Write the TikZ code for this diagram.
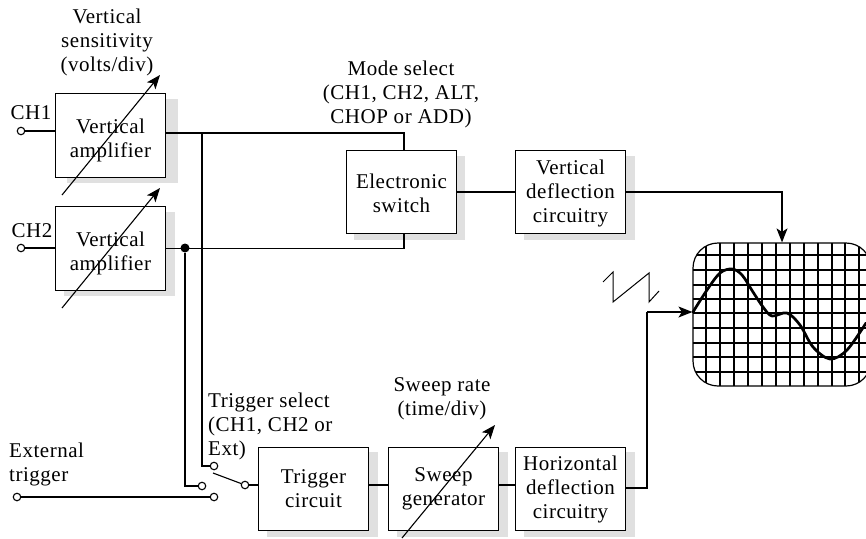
\documentclass[tikz,border=0pt]{standalone}
\usepackage{fontspec}
\setmainfont[LetterSpace=2.5]{Liberation Serif}
\usetikzlibrary{arrows.meta}
\definecolor{shade}{gray}{0.88}
\tikzset{
  x=1pt,y=-1pt,
  wire/.style={line width=1.1pt,line join=miter},
  gridline/.style={line width=1.35pt},
  tipwire/.style={wire,-{Stealth[length=14pt,width=11pt,inset=3.5pt]}},
  blk/.style={draw,line width=1.15pt,fill=white,minimum width=110pt,minimum height=83.5pt,inner sep=0pt},
  blktext/.style={inner sep=0pt,align=center,font=\fontsize{21}{24}\selectfont},
  shadowbox/.style={fill=shade,draw=none},
  lbl/.style={inner sep=0pt,font=\fontsize{21}{24}\selectfont},
  term/.style={circle,draw,line width=1.1pt,fill=white,minimum size=7.5pt,inner sep=0pt},
  jdot/.style={circle,fill=black,minimum size=9pt,inner sep=0pt}
}
\begin{document}
\begin{tikzpicture}
\useasboundingbox (0,0) rectangle (866,538);
% shadows
\fill[shadowbox] (67,99) rectangle (178,183);
\fill[shadowbox] (64,212) rectangle (175,296);
\fill[shadowbox] (354,156) rectangle (465,240);
\fill[shadowbox] (524,156) rectangle (635,240);
\fill[shadowbox] (267,452) rectangle (378,537);
\fill[shadowbox] (397,452) rectangle (508,537);
\fill[shadowbox] (524,452) rectangle (635,537);
% blocks
\node[blk,label={[blktext,yshift=-5pt]center:{Vertical\\amplifier}}] (amp1) at (110.5,135.5) {};
\node[blk,label={[blktext,yshift=-5pt]center:{Vertical\\amplifier}}] (amp2) at (110.5,248.5) {};
\node[blk,label={[blktext,yshift=-1.5pt]center:{Electronic\\switch}}] (es) at (401.5,192) {};
\node[blk,label={[blktext,yshift=-1.5pt]center:{Vertical\\deflection\\circuitry}}] (vd) at (570.5,192) {};
\node[blk,label={[blktext]center:{Trigger\\circuit}}] (trig) at (313.5,489) {};
\node[blk,label={[blktext]center:{Sweep\\generator}}] (sweep) at (443.5,489) {};
\node[blk,label={[blktext]center:{Horizontal\\deflection\\circuitry}}] (hd) at (570.5,489) {};
% screen
\node[draw,line width=1.2pt,rounded corners=25pt,minimum width=178pt,minimum height=143pt,inner sep=0pt] (screen) at (782,314.5) {};
\begin{scope}
\clip[rounded corners=25pt] (693,243) rectangle (871,386);
\foreach \gx in {706,720,734,748,762,776,790,804,818,832,845,859}
  \draw[gridline] (\gx,243) -- (\gx,386);
\foreach \gy in {255,270,285,299,313,328,343,357,372}
  \draw[gridline] (693,\gy) -- (871,\gy);
\end{scope}
\draw[line width=2.7pt,line cap=round,line join=round] plot[smooth,tension=0.55] coordinates {(693,312) (707,290) (720,273) (732,269) (742,275) (753,292) (763,307) (772,316) (787,313) (800,325) (813,347) (830,359) (847,350) (866,323)};
% terminals
\node[term] (in1) at (21,131) {};
\node[term] (in2) at (21,248) {};
\node[term] (tch1) at (214,466) {};
\node[term] (tch2) at (202,486) {};
\node[term] (text) at (214,497) {};
\node[term] (ext) at (17,497) {};
\node[term] (tout) at (245,485) {};
\node[jdot] (dot) at (185,248) {};
% wires
\draw[wire] (in1) -- (in1 -| amp1.west);
\draw[wire] (in2) -- (in2 -| amp2.west);
\coordinate (a1o) at ([yshift=2.5pt]amp1.east);
\coordinate (a2o) at (amp2.east);
\draw[wire] (a1o) -| ([xshift=2.5pt]es.north);
\draw[wire] (a2o) -| ([xshift=2.5pt]es.south);
\coordinate (bus1) at (202,133);
\draw[wire] (bus1) |- (tch1);
\draw[wire] (dot) |- (tch2);
\draw[wire] (ext) -- (text);
\draw[wire] (tout) -- (tout -| trig.west);
\draw[wire] (tout) -- (213,473);
\draw[wire] (es.east) -- (vd.west);
\draw[wire] ([yshift=4pt]trig.east) -- ([yshift=4pt]sweep.west);
\draw[wire] ([yshift=4pt]sweep.east) -- ([yshift=4pt]hd.west);
\draw[tipwire] (vd.east) -| (screen.north);
\coordinate (hknee) at (647,312);
\draw[wire] ([yshift=1pt]hd.east) -| (hknee);
\draw[tipwire] (hknee) -- ([yshift=2.5pt]screen.west);
% adjust arrows
\coordinate (a1s) at (62,195); \coordinate (a1e) at (160,75);
\coordinate (a2s) at (62,308); \coordinate (a2e) at (160,188);
\coordinate (s1s) at (402,538); \coordinate (s1e) at (495,425);
\draw[tipwire] (a1s) -- (a1e);
\draw[tipwire] (a2s) -- (a2e);
\draw[tipwire] (s1s) -- (s1e);
% sawtooth
\draw[line width=1pt] (603,282) -- (613,272) -- (613,302) -- (649,273) -- (649,302) -- (659,291);
% labels
\node[lbl,align=center] (l1) at (107,42) {Vertical\\sensitivity\\(volts/div)};
\node[lbl] (lc1) at (31,113) {CH1};
\node[lbl] (lc2) at (32,231) {CH2};
\node[lbl,align=center] (l2) at (401,94) {Mode select\\(CH1, CH2, ALT,\\CHOP or ADD)};
\node[lbl,align=left,anchor=west] (l3) at (208,426) {Trigger select\\(CH1, CH2 or\\Ext)};
\node[lbl,align=left,anchor=west] (l4) at (9,464) {External\\trigger};
\node[lbl,align=center] (l5) at (442,399) {Sweep rate\\(time/div)};
\end{tikzpicture}
\end{document}
